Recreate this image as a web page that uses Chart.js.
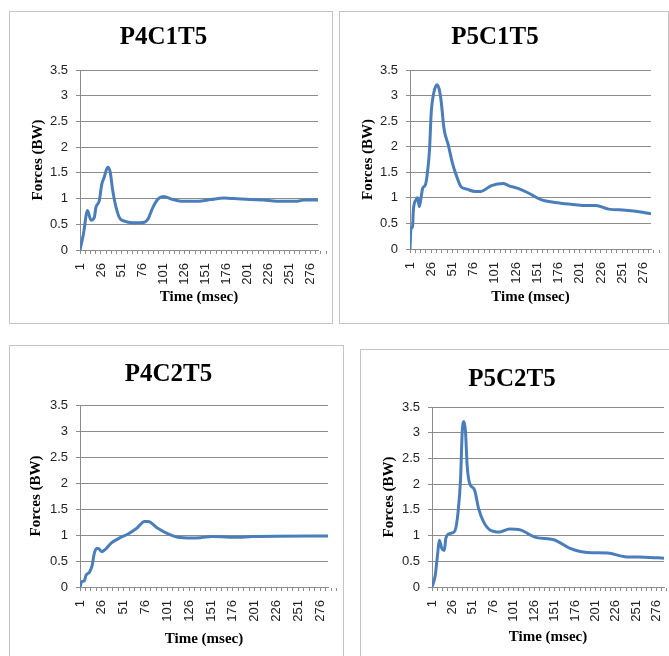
<!DOCTYPE html>
<html>
<head>
<meta charset="utf-8">
<script src="https://cdn.jsdelivr.net/npm/chart.js@4.4.1/dist/chart.umd.min.js"></script>
<style>
  html, body { margin: 0; padding: 0; background: #fff; overflow: hidden; width: 669px; height: 656px; position: relative; }
  .frame { position: absolute; border: 1px solid #c4c4c4; box-sizing: border-box; pointer-events: none; }
</style>
</head>
<body>
<script>
// axis ticks
const xTickLabels = [1, 26, 51, 76, 101, 126, 151, 176, 201, 226, 251, 276];
const yTickValues = [0, 0.5, 1, 1.5, 2, 2.5, 3, 3.5];

// P4C1T5 - time (msec) / force (BW)
const p4c1Time  = [1, 5, 10, 14, 18, 20, 24, 27, 30, 34, 37, 40, 43, 48, 54, 64, 72, 78, 82, 88, 94, 101, 110, 122, 142, 157, 173, 185, 204, 220, 236, 260, 268, 285];
const p4c1Force = [0, 0.3, 0.77, 0.58, 0.63, 0.83, 0.96, 1.28, 1.42, 1.61, 1.52, 1.16, 0.9, 0.63, 0.56, 0.53, 0.53, 0.54, 0.6, 0.83, 0.99, 1.04, 0.99, 0.95, 0.95, 0.98, 1.01, 1.0, 0.98, 0.97, 0.95, 0.95, 0.97, 0.97];

// P5C1T5
const p5c1Time  = [1, 2, 4, 5, 8, 10, 12, 14, 16, 19, 21, 24, 26, 29, 33, 36, 38, 41, 46, 51, 56, 61, 68, 78, 84, 97, 111, 117, 129, 140, 156, 172, 196, 204, 220, 235, 255, 275, 285];
const p5c1Force = [0, 0.38, 0.44, 0.77, 0.96, 1.0, 0.83, 1.0, 1.19, 1.25, 1.42, 1.94, 2.66, 3.05, 3.21, 3.08, 2.85, 2.36, 2.04, 1.68, 1.42, 1.22, 1.17, 1.125, 1.125, 1.24, 1.28, 1.24, 1.18, 1.1, 0.96, 0.91, 0.865, 0.85, 0.85, 0.78, 0.76, 0.72, 0.69];

// P4C2T5
const p4c2Time  = [1, 3, 6, 8, 12, 15, 17, 20, 22, 26, 31, 37, 46, 56, 66, 75, 79, 90, 102, 113, 129, 140, 152, 183, 198, 285];
const p4c2Force = [0, 0.1, 0.12, 0.23, 0.29, 0.42, 0.62, 0.74, 0.74, 0.68, 0.74, 0.85, 0.94, 1.02, 1.13, 1.26, 1.26, 1.13, 1.02, 0.955, 0.94, 0.95, 0.97, 0.955, 0.97, 0.98];

// P5C2T5
const p5c2Time  = [1, 5, 8, 10, 13, 16, 18, 23, 29, 33, 36, 38, 40, 42, 44, 47, 53, 58, 64, 72, 84, 96, 109, 129, 150, 170, 191, 216, 237, 261, 285];
const p5c2Force = [0, 0.23, 0.66, 0.91, 0.75, 0.71, 0.95, 1.04, 1.09, 1.47, 2.11, 3.02, 3.22, 3.02, 2.37, 2.02, 1.89, 1.53, 1.27, 1.11, 1.07, 1.13, 1.11, 0.96, 0.92, 0.75, 0.67, 0.66, 0.59, 0.58, 0.56];

// minor tick marks: 4 per labelled interval
const xMinorTicks = [];
xTickLabels.forEach(v => { for (let k = 0; k < 4; k++) xMinorTicks.push(v + k * 6.25); });

const serif = "'Liberation Serif', 'DejaVu Serif', serif";
const sans = "'Liberation Sans', Arial, sans-serif";
const gridGray = '#8c8c8c';

// panel boxes and plot areas (page pixels)
const panels = [
  { title: 'P4C1T5', left: 9,   top: 11,  w: 324, h: 313, plotLeft: 80,  plotTop: 70,  plotRight: 318, plotBottom: 250, tTop: 12, tBottom: 17, yTitlePad: 20, xTitlePad: 18, time: p4c1Time, force: p4c1Force },
  { title: 'P5C1T5', left: 339, top: 11,  w: 330, h: 313, plotLeft: 410, plotTop: 70,  plotRight: 651, plotBottom: 249, tTop: 12, tBottom: 17, yTitlePad: 20, xTitlePad: 18, time: p5c1Time, force: p5c1Force },
  { title: 'P4C2T5', left: 9,   top: 345, w: 335, h: 315, plotLeft: 80,  plotTop: 405, plotRight: 328, plotBottom: 587, tTop: 15, tBottom: 15, yTitlePad: 18, xTitlePad: 12, time: p4c2Time, force: p4c2Force },
  { title: 'P5C2T5', left: 360, top: 349, w: 320, h: 311, plotLeft: 432, plotTop: 407, plotRight: 664, plotBottom: 587, tTop: 16, tBottom: 12, yTitlePad: 20, xTitlePad: 14, time: p5c2Time, force: p5c2Force }
];

function makePanel(p) {
  const cv = document.createElement('canvas');
  cv.width = p.w;
  cv.height = p.h;
  cv.style.cssText = `position:absolute;left:${p.left}px;top:${p.top}px;width:${p.w}px;height:${p.h}px;`;
  document.body.appendChild(cv);

  const frame = document.createElement('div');
  frame.className = 'frame';
  frame.style.cssText = `left:${p.left}px;top:${p.top}px;width:${p.w}px;height:${p.h}px;`;
  document.body.appendChild(frame);

  const points = p.time.map((t, i) => ({ x: t, y: p.force[i] }));

  new Chart(cv, {
    type: 'line',
    data: {
      datasets: [{
        data: points,
        borderColor: '#4a7ebb',
        borderWidth: 3,
        pointRadius: 0,
        fill: false,
        cubicInterpolationMode: 'monotone'
      }]
    },
    options: {
      responsive: false,
      animation: false,
      layout: { padding: { left: 0, top: 0, bottom: 0, right: p.w - (p.plotRight - p.left) } },
      plugins: {
        legend: { display: false },
        tooltip: { enabled: false },
        title: {
          display: true,
          text: p.title,
          color: '#000',
          font: { family: serif, size: 25, weight: 'bold', lineHeight: 1.2 },
          padding: { top: p.tTop, bottom: p.tBottom }
        }
      },
      scales: {
        x: {
          type: 'linear',
          min: 1,
          max: 285,
          afterBuildTicks: s => { s.ticks = xMinorTicks.map(v => ({ value: v })); },
          afterFit: s => {
            s.height = p.h - (p.plotBottom - p.top);
            s.paddingLeft = 0;
            s.paddingRight = 0;
          },
          ticks: {
            autoSkip: false,
            minRotation: 90,
            maxRotation: 90,
            padding: 9,
            color: '#222',
            font: { family: sans, size: 13 },
            callback: v => xTickLabels.includes(v) ? String(v) : ''
          },
          grid: { drawOnChartArea: false, drawTicks: true, tickLength: 4, color: gridGray },
          border: { display: true, color: gridGray },
          title: {
            display: true,
            text: 'Time (msec)',
            color: '#000',
            font: { family: serif, size: 15, weight: 'bold', lineHeight: 1.2 },
            padding: { top: 0, bottom: p.xTitlePad }
          }
        },
        y: {
          min: 0,
          max: 3.5,
          afterBuildTicks: s => { s.ticks = yTickValues.map(v => ({ value: v })); },
          afterFit: s => {
            s.width = p.plotLeft - p.left;
            s.paddingTop = 0;
            s.paddingBottom = 0;
          },
          ticks: {
            padding: 8,
            color: '#222',
            font: { family: sans, size: 13 },
            callback: v => String(v)
          },
          grid: { color: gridGray, tickLength: 4 },
          border: { display: true, color: gridGray },
          title: {
            display: true,
            text: 'Forces (BW)',
            color: '#000',
            font: { family: serif, size: 15, weight: 'bold', lineHeight: 1.2 },
            padding: { top: p.yTitlePad, bottom: 0 }
          }
        }
      }
    }
  });
}

panels.forEach(makePanel);
</script>
</body>
</html>
